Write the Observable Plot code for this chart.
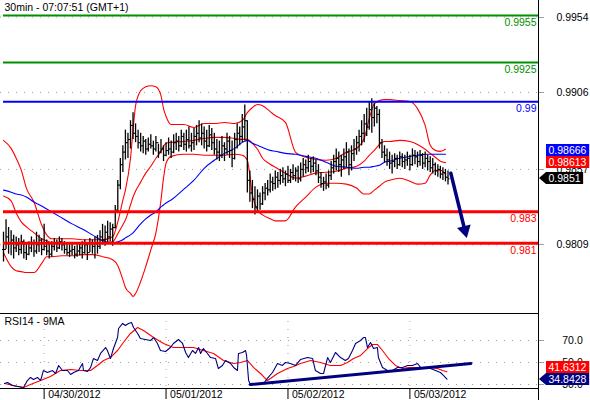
<!DOCTYPE html>
<html><head><meta charset="utf-8">
<script src="https://cdn.jsdelivr.net/npm/d3@7"></script>
<script src="https://cdn.jsdelivr.net/npm/@observablehq/plot@0.6"></script>
<style>
body{margin:0;background:#fff;}
#chart{position:relative;width:590px;height:400px;overflow:hidden;background:#fff;font-family:"Liberation Sans",Arial,sans-serif;}
#chart svg{position:absolute;left:0;}
</style></head><body><div id="chart"></div>
<script>
// ---------- data ----------
const title = "30min - 07:07:51 (GMT+1)";
const rsiTitle = "RSI14 - 9MA";

const highs = [0.9817,0.9825,0.9820,0.9818,0.9815,0.9814,0.9813,0.9815,0.9812,0.9810,
0.9811,0.9814,0.9812,0.9817,0.9815,0.9813,0.9822,0.9812,0.9810,0.9811,
0.9813,0.9812,0.9814,0.9813,0.9811,0.9810,0.9809,0.9810,0.9808,0.9809,
0.9810,0.9811,0.9812,0.9810,0.9813,0.9812,0.9814,0.9815,0.9818,0.9822,
0.9821,0.9824,0.9823,0.9822,0.9834,0.9850,0.9864,0.9872,0.9882,0.9880,
0.9888,0.9893,0.9886,0.9882,0.9880,0.9878,0.9876,0.9877,0.9879,0.9875,
0.9878,0.9873,0.9876,0.9872,0.9874,0.9877,0.9875,0.9879,0.9880,0.9878,
0.9882,0.9880,0.9882,0.9884,0.9880,0.9883,0.9885,0.9888,0.9886,0.9884,
0.9882,0.9885,0.9883,0.9880,0.9876,0.9875,0.9878,0.9874,0.9880,0.9878,
0.9875,0.9880,0.9886,0.9884,0.9892,0.9898,0.9888,0.9856,0.9850,0.9846,
0.9844,0.9842,0.9846,0.9848,0.9850,0.9854,0.9852,0.9856,0.9855,0.9857,
0.9858,0.9856,0.9859,0.9857,0.9860,0.9858,0.9859,0.9861,0.9864,0.9863,
0.9866,0.9864,0.9865,0.9863,0.9860,0.9855,0.9852,0.9854,0.9856,0.9862,
0.9866,0.9870,0.9868,0.9866,0.9870,0.9874,0.9870,0.9872,0.9876,0.9878,
0.9882,0.9888,0.9892,0.9896,0.9900,0.9902,0.9899,0.9897,0.9895,0.9876,
0.9872,0.9870,0.9868,0.9866,0.9867,0.9866,0.9868,0.9867,0.9866,0.9868,
0.9866,0.9870,0.9869,0.9868,0.9869,0.9867,0.9868,0.9866,0.9865,0.9864,
0.9861,0.9860,0.9859,0.9858,0.9857,0.9856];
const lows = [0.9798,0.9806,0.9803,0.9802,0.9800,0.9804,0.9802,0.9803,0.9800,0.9799,
0.9802,0.9804,0.9801,0.9803,0.9804,0.9802,0.9805,0.9802,0.9800,0.9801,
0.9805,0.9804,0.9806,0.9805,0.9803,0.9802,0.9801,0.9802,0.9800,0.9801,
0.9802,0.9800,0.9803,0.9799,0.9804,0.9803,0.9800,0.9803,0.9806,0.9809,
0.9808,0.9810,0.9811,0.9808,0.9819,0.9830,0.9844,0.9855,0.9863,0.9864,
0.9870,0.9876,0.9874,0.9870,0.9868,0.9867,0.9866,0.9868,0.9870,0.9866,
0.9868,0.9864,0.9867,0.9862,0.9865,0.9866,0.9864,0.9867,0.9869,0.9868,
0.9871,0.9869,0.9868,0.9870,0.9868,0.9869,0.9872,0.9874,0.9872,0.9870,
0.9868,0.9871,0.9869,0.9866,0.9863,0.9862,0.9864,0.9862,0.9866,0.9864,
0.9858,0.9863,0.9870,0.9872,0.9874,0.9875,0.9842,0.9836,0.9832,0.9828,
0.9830,0.9831,0.9834,0.9837,0.9840,0.9842,0.9843,0.9844,0.9845,0.9847,
0.9848,0.9846,0.9848,0.9848,0.9850,0.9849,0.9848,0.9849,0.9852,0.9854,
0.9855,0.9854,0.9855,0.9853,0.9848,0.9845,0.9843,0.9844,0.9845,0.9850,
0.9854,0.9856,0.9855,0.9852,0.9857,0.9858,0.9853,0.9856,0.9862,0.9866,
0.9868,0.9872,0.9874,0.9878,0.9882,0.9880,0.9884,0.9886,0.9870,0.9864,
0.9861,0.9859,0.9857,0.9854,0.9858,0.9857,0.9859,0.9858,0.9857,0.9859,
0.9856,0.9859,0.9860,0.9858,0.9859,0.9857,0.9858,0.9856,0.9855,0.9854,
0.9853,0.9852,0.9851,0.9850,0.9849,0.9847];
const closes = [0.9806,0.9814,0.9810,0.9812,0.9807,0.9809,0.9806,0.9811,0.9804,0.9803,
0.9807,0.9810,0.9805,0.9809,0.9812,0.9806,0.9808,0.9805,0.9803,0.9808,
0.9810,0.9807,0.9811,0.9809,0.9806,0.9804,0.9805,0.9806,0.9803,0.9805,
0.9807,0.9804,0.9809,0.9804,0.9810,0.9808,0.9810,0.9808,0.9814,0.9812,
0.9817,0.9814,0.9819,0.9820,0.9831,0.9847,0.9860,0.9868,0.9874,0.9876,
0.9885,0.9880,0.9878,0.9874,0.9872,0.9875,0.9870,0.9873,0.9872,0.9870,
0.9874,0.9868,0.9870,0.9866,0.9869,0.9870,0.9868,0.9874,0.9875,0.9872,
0.9878,0.9873,0.9876,0.9872,0.9874,0.9878,0.9880,0.9877,0.9880,0.9875,
0.9872,0.9879,0.9874,0.9870,0.9868,0.9866,0.9872,0.9870,0.9875,0.9869,
0.9864,0.9876,0.9880,0.9878,0.9884,0.9888,0.9850,0.9842,0.9838,0.9833,
0.9840,0.9835,0.9842,0.9845,0.9844,0.9849,0.9848,0.9852,0.9850,0.9853,
0.9851,0.9854,0.9850,0.9855,0.9853,0.9856,0.9851,0.9857,0.9860,0.9858,
0.9862,0.9859,0.9861,0.9856,0.9852,0.9848,0.9849,0.9847,0.9853,0.9858,
0.9862,0.9864,0.9860,0.9863,0.9865,0.9868,0.9860,0.9867,0.9870,0.9874,
0.9878,0.9880,0.9886,0.9884,0.9895,0.9890,0.9896,0.9892,0.9874,0.9868,
0.9866,0.9863,0.9861,0.9862,0.9864,0.9860,0.9865,0.9862,0.9863,0.9864,
0.9860,0.9866,0.9865,0.9862,0.9866,0.9861,0.9864,0.9862,0.9858,0.9860,
0.9856,0.9857,0.9854,0.9855,0.9852,0.9851];

// Bollinger (20) and long MA, sampled at bar indices
const bandIdx = [0,3,5,7,9,12,15,17,19,23,27,31,35,39,43,45,47,48,50,51,52,54,56,58,60,62,63,64,66,71,75,79,83,87,91,94,96,98,100,102,105,107,111,115,119,123,127,131,135,139,142,144,146,148,150,152,156,160,163,166,168,170,172,174];
const bbUpper = [0.98755,0.98704,0.98641,0.98565,0.98451,0.98362,0.98217,0.98153,0.98128,0.98128,
0.98128,0.98122,0.98122,0.98122,0.98141,0.98236,0.98375,0.98438,0.98641,0.98818,
0.98976,0.99071,0.99096,0.99103,0.99096,0.9904,0.98957,0.98907,0.98856,0.98856,
0.98837,0.98862,0.98862,0.98869,0.98862,0.98881,0.98932,0.98964,0.98983,0.98976,
0.98938,0.98913,0.98869,0.98679,0.98647,0.98634,0.98628,0.98641,0.98679,0.98704,
0.98767,0.98894,0.98989,0.99008,0.99014,0.99014,0.99008,0.99002,0.98957,0.9885,
0.98723,0.98691,0.98685,0.98698];
const bbMiddle = [0.984,0.98369,0.98293,0.98236,0.98204,0.98166,0.98128,0.98115,0.98103,0.98103,
0.98103,0.98103,0.98096,0.98103,0.98109,0.9816,0.98217,0.98248,0.98343,0.98394,
0.98432,0.98489,0.98546,0.9859,0.98641,0.98685,0.98717,0.98736,0.98742,0.98748,
0.98755,0.98767,0.98774,0.98774,0.98767,0.98761,0.98761,0.98736,0.98698,0.98641,
0.98603,0.98584,0.98546,0.98514,0.98527,0.98546,0.98552,0.98558,0.98577,0.9859,
0.98622,0.9866,0.98691,0.98729,0.98748,0.98748,0.98755,0.98748,0.98729,0.98698,
0.98672,0.98647,0.98622,0.98613];
const bbLower = [0.98039,0.97951,0.97925,0.97919,0.97913,0.97913,0.9797,0.98014,0.98014,0.9802,
0.9802,0.98027,0.98027,0.98014,0.97995,0.97957,0.97868,0.97818,0.9778,0.97761,
0.9778,0.97856,0.97951,0.98058,0.98166,0.98375,0.98514,0.98609,0.98653,0.98666,
0.98666,0.9866,0.9866,0.9866,0.98666,0.9866,0.98628,0.98407,0.98312,0.9828,
0.98255,0.98242,0.98242,0.98331,0.98394,0.98457,0.98482,0.98482,0.98476,0.98451,
0.98413,0.98413,0.98438,0.98463,0.98489,0.98501,0.98514,0.98495,0.98476,0.98482,
0.98533,0.98565,0.98565,0.98539];
const maLong = [0.98438,0.98425,0.98413,0.98407,0.98394,0.98362,0.98337,0.98318,0.98299,0.98261,
0.98223,0.98191,0.98153,0.98115,0.98103,0.98109,0.98122,0.98134,0.98153,0.98166,
0.98185,0.98223,0.98255,0.9828,0.98299,0.98331,0.98343,0.98356,0.98375,0.98444,
0.98501,0.98577,0.98628,0.98672,0.98704,0.98742,0.98755,0.98736,0.98723,0.9871,
0.98691,0.98685,0.98672,0.98666,0.98653,0.98641,0.98615,0.9859,0.98584,0.98577,
0.98584,0.98584,0.9859,0.98596,0.98615,0.98622,0.98641,0.98653,0.9866,0.98666,
0.98666,0.98666,0.98666,0.98666];

const levelValues = [0.9955, 0.9925, 0.99, 0.983, 0.981];
const levelLabels = ["0.9955", "0.9925", "0.99", "0.983", "0.981"];
const levelKinds  = ["target", "target", "pivot", "support", "support"];
const priceTicks = [0.9954, 0.9906, 0.9857, 0.9809];
const lastPrice = 0.9851, lastMaShort = 0.98613, lastMaLong = 0.98666;
const arrowFrom = [176.1, 0.98546];
const arrowTo   = [182.3, 0.98138];

const rsiIdx = [0.4,1.6,3.5,5.5,7.9,9.4,10.6,11.8,13.4,14.6,15.7,17.3,19.3,20.5,21.7,23.2,25.2,26.4,27.6,29.5,31.1,31.5,33.1,34.3,35.4,37,38.2,40.2,40.9,42.1,43.3,44.9,45.3,46.9,48,49.2,50.4,51.2,52.8,53.9,55.9,57.9,59.1,60.6,61.8,63.8,65.7,66.9,68.9,70.5,71.7,72.8,74.4,75.6,76.8,77.6,78.7,80.3,81.5,83.5,84.6,86.2,87.4,89.4,90.6,92.1,92.5,94.1,95.3,95.7,96.5,97.2,100,102.4,103.9,105.9,107.9,109.8,111,113,115,116.9,119.7,121.7,122.8,124.8,126,127.6,128.7,130.7,132.7,134.6,135.8,137.4,138.6,140.6,141.7,142.5,143.3,144.5,145.7,147.2,147.6,149.2,151.2,153.1,155.1,157.1,159.1,161,163,164.2,165.4,166.9,168.1,170.1,172,173.2,174.6];
const rsiVal = [30.9,31.8,29.1,28.2,27.3,33.6,36.4,34.5,36.4,33.6,42.7,40.9,42.7,40,47.3,42.7,42.7,39.1,40.9,42.7,49.1,42.7,41.8,45.5,53.6,51.8,58.2,63.6,60.9,53.6,62.7,72.7,80.9,85.5,83.6,85.5,86.4,81.8,76.4,71.8,70.9,70,72.7,67.3,60.9,60,63.6,67.3,70.9,67.3,59.1,54.5,60.9,58.2,63.6,58.2,62.7,58.2,54.5,53.6,44.5,47.3,51.8,49.1,45.5,42.7,58.2,59.1,60.9,56.4,33.6,30,30.9,30.9,35.5,40.9,49.1,47.3,50,49.1,47.3,52.7,54.5,53.6,42.7,40,40,54.5,50,59.1,54.5,51.8,53.6,60.9,67.3,70,72.7,72.7,63.6,68.2,62.7,63.6,54.5,45.5,42.7,42.7,45.5,45.5,47.3,47.3,49.1,45.5,44.5,45.5,44.5,42.7,40.9,38.2,34.8428];
const rsiMaIdx = [0.4,3.9,7.9,10.6,14.6,18.5,22.4,26.4,30.3,34.3,37,39.4,42.1,44.9,47.2,50,52.8,55.1,59.1,63,66.9,70.9,74.8,78.7,82.7,86.6,90.6,93.3,96.1,98.4,101.2,103.9,105.1,107.9,111.8,114.2,116.9,120.9,124.8,128.7,132.7,135.4,137.8,140.6,143.3,145.3,147.2,149.2,151.6,154.3,157.1,159.4,162.2,165.4,168.1,170.9,172.8,174.6];
const rsiMaVal = [30.9,29.1,27.3,30,33.6,37.3,42.7,43.6,42.7,42.7,47.3,51.8,54.5,60.9,68.2,76.4,81.8,79.1,72.7,67.3,63.6,63.6,63.6,60.9,58.2,51.8,49.1,50,51.8,45.5,40,33.6,35.5,40,44.5,46.4,49.1,51.8,50,47.3,47.3,50,53.6,56.4,62.7,66.4,66.4,60.9,53.6,47.3,44.5,45.5,45.5,45.5,45.5,44.5,42.7,41.6312];
const trendIdx = [97.2, 184];
const trendVal = [30.0, 49.1];
const rsiTicks = [70, 50, 30];
const lastRsi = 34.8428, lastRsiMa = 41.6312;

const dateIdx = [16, 64, 112, 160];
const dateLabels = ["04/30/2012", "05/01/2012", "05/02/2012", "05/03/2012"];

// ---------- styles / layout ----------
const W = 590, MR = 52;
const X_DOMAIN = [-1.181, 210.63];
const levelStyle = {
  target:  {color: "#009000", width: 2},
  pivot:   {color: "#0000ff", width: 2},
  support: {color: "#ff0000", width: 3}
};
const fontStyle = {fontFamily: '"Liberation Sans", Arial, sans-serif', fontSize: "10.5px", background: "transparent", overflow: "visible"};

const bars = highs.map((h, i) => ({i, high: h, low: lows[i], close: closes[i], open: i ? closes[i - 1] : closes[0]}));
const band = bandIdx.map((i, k) => ({i, up: bbUpper[k], mid: bbMiddle[k], lo: bbLower[k], ma: maLong[k]}));
const levels = levelValues.map((v, k) => ({v, label: levelLabels[k], kind: levelKinds[k]}));
const rsiPts = rsiIdx.map((i, k) => ({i, v: rsiVal[k]}));
const rsiMaPts = rsiMaIdx.map((i, k) => ({i, v: rsiMaVal[k]}));
const trendPts = trendIdx.map((i, k) => ({i, v: trendVal[k]}));

function rightAxis(ticks, fmt) {
  return (index, scales, values, dims) => {
    const x0 = dims.width - dims.marginRight;
    const g = d3.create("svg:g");
    for (const t of ticks) {
      const yy = Math.round(scales.y(t)) + 0.5;
      g.append("line").attr("x1", x0 + 1).attr("x2", x0 + 6).attr("y1", yy).attr("y2", yy).attr("stroke", "#a0a0a0");
      g.append("text").attr("x", x0 + 34.5).attr("y", yy).attr("dy", "0.35em")
        .attr("text-anchor", "middle").attr("fill", "#000").text(fmt(t));
    }
    return g.node();
  };
}

function valueBoxes(items) {
  return (index, scales, values, dims) => {
    const x0 = dims.width - dims.marginRight;
    const H = 12;
    const placed = items.map(d => ({...d, yc: scales.y(d.value)})).sort((a, b) => b.yc - a.yc);
    let prev = Infinity;
    for (const p of placed) { p.yc = Math.min(p.yc, prev - H); prev = p.yc; }
    const g = d3.create("svg:g");
    for (const p of placed) {
      const w = 6.1 * p.label.length + 0.5;
      const L = x0 + 8, R = L + w, T = Math.round(p.yc - H / 2), B = T + H;
      const pts = p.arrow ? [[x0 + 1, (T + B) / 2], [L, T], [R, T], [R, B], [L, B]] : [[L, T], [R, T], [R, B], [L, B]];
      g.append("polygon").attr("points", pts.map(q => q.join(",")).join(" ")).attr("fill", p.fill);
      g.append("text").attr("x", L + 2.5).attr("y", (T + B) / 2).attr("dy", "0.36em")
        .attr("text-anchor", "start").attr("fill", "#fff").text(p.label);
    }
    return g.node();
  };
}

// ---------- main price panel ----------
const levelMarks = levels.flatMap(d => [
  Plot.ruleY([d], {y: "v", x1: 0, x2: X_DOMAIN[1], stroke: levelStyle[d.kind].color, strokeWidth: levelStyle[d.kind].width}),
  Plot.text([d], {x: X_DOMAIN[1], y: "v", text: "label", textAnchor: "end", lineAnchor: "top", dx: -2, dy: 3, fill: levelStyle[d.kind].color})
]);

const arrowData = [{x1: arrowFrom[0], y1: arrowFrom[1], x2: arrowTo[0], y2: arrowTo[1]}];

const main = Plot.plot({
  width: W, height: 313,
  marginTop: 0, marginBottom: 0, marginLeft: 0, marginRight: MR,
  x: {type: "linear", domain: X_DOMAIN, axis: null},
  y: {type: "linear", domain: [0.976523, 0.996455], axis: null},
  style: fontStyle,
  marks: [
    Plot.ruleY(priceTicks, {stroke: "#a0a0a0", strokeDasharray: "1,7"}),
    Plot.line(band, {x: "i", y: "up", stroke: "#ff0000", strokeWidth: 1.1, curve: "monotone-x"}),
    Plot.line(band, {x: "i", y: "mid", stroke: "#ff0000", strokeWidth: 1.1, curve: "monotone-x"}),
    Plot.line(band, {x: "i", y: "lo", stroke: "#ff0000", strokeWidth: 1.1, curve: "monotone-x"}),
    Plot.line(band, {x: "i", y: "ma", stroke: "#0000ff", strokeWidth: 1.1, curve: "monotone-x"}),
    Plot.ruleX(bars, {x: "i", y1: "low", y2: "high", stroke: "#000", strokeWidth: 1.3}),
    Plot.link(bars, {x1: d => d.i - 0.6, x2: "i", y1: "open", y2: "open", stroke: "#000", strokeWidth: 1}),
    Plot.link(bars, {x1: "i", x2: d => d.i + 0.6, y1: "close", y2: "close", stroke: "#000", strokeWidth: 1}),
    ...levelMarks,
    Plot.arrow(arrowData, {x1: "x1", y1: "y1", x2: "x2", y2: "y2", stroke: "#000080", strokeWidth: 3.5, headLength: 0, insetEnd: 9}),
    Plot.dot(arrowData, {x: "x2", y: "y2", symbol: "triangle", r: 5.2, fill: "#000080", stroke: "none", rotate: 166, dx: -1.7, dy: -7}),
    Plot.ruleX([X_DOMAIN[1]], {stroke: "#000"}),
    Plot.text([title], {text: d => d, frameAnchor: "top-left", dx: 4, dy: 3, lineAnchor: "top", textAnchor: "start", fill: "#000"}),
    rightAxis(priceTicks, d => d.toFixed(4)),
    valueBoxes([
      {value: lastPrice, label: lastPrice.toFixed(4), fill: "#000000", arrow: true},
      {value: lastMaShort, label: lastMaShort.toFixed(5), fill: "#ff0000"},
      {value: lastMaLong, label: lastMaLong.toFixed(5), fill: "#0000ff"}
    ])
  ]
});
main.style.top = "0px";

// ---------- RSI panel ----------
const RSI_DOMAIN = [26.364, 94.545];
const rsi = Plot.plot({
  width: W, height: 89,
  marginTop: 2, marginBottom: 12, marginLeft: 0, marginRight: MR,
  x: {type: "linear", domain: X_DOMAIN, axis: null},
  y: {type: "linear", domain: RSI_DOMAIN, axis: null},
  style: fontStyle,
  marks: [
    Plot.ruleY(rsiTicks, {stroke: "#a0a0a0", strokeDasharray: "1,7"}),
    Plot.ruleX(dateIdx, {stroke: "#a0a0a0", strokeDasharray: "1,7"}),
    Plot.line(rsiMaPts, {x: "i", y: "v", stroke: "#ff0000", strokeWidth: 1.1}),
    Plot.line(rsiPts, {x: "i", y: "v", stroke: "#000080", strokeWidth: 1.1}),
    Plot.line(trendPts, {x: "i", y: "v", stroke: "#000080", strokeWidth: 3}),
    Plot.ruleY([RSI_DOMAIN[1]], {stroke: "#000"}),
    Plot.ruleY([RSI_DOMAIN[0]], {stroke: "#000"}),
    Plot.ruleX([X_DOMAIN[1]], {y1: 15, y2: RSI_DOMAIN[1], stroke: "#000"}),
    Plot.ruleX(dateIdx, {y1: RSI_DOMAIN[0] - 10, y2: RSI_DOMAIN[0], stroke: "#000"}),
    Plot.text(dateIdx, {x: d => d, text: (d, i) => dateLabels[i], frameAnchor: "bottom", lineAnchor: "top", textAnchor: "start", dx: 4, dy: 2.5, fill: "#000"}),
    Plot.text([rsiTitle], {text: d => d, frameAnchor: "top-left", dx: 4, dy: 4, lineAnchor: "top", textAnchor: "start", fill: "#000"}),
    rightAxis(rsiTicks, d => d.toFixed(1)),
    valueBoxes([
      {value: lastRsi, label: lastRsi.toFixed(4), fill: "#000080", arrow: true},
      {value: lastRsiMa, label: lastRsiMa.toFixed(4), fill: "#ff0000"}
    ])
  ]
});
rsi.style.top = "311px";

const chart = document.getElementById("chart");
chart.appendChild(main);
chart.appendChild(rsi);
</script></body></html>
